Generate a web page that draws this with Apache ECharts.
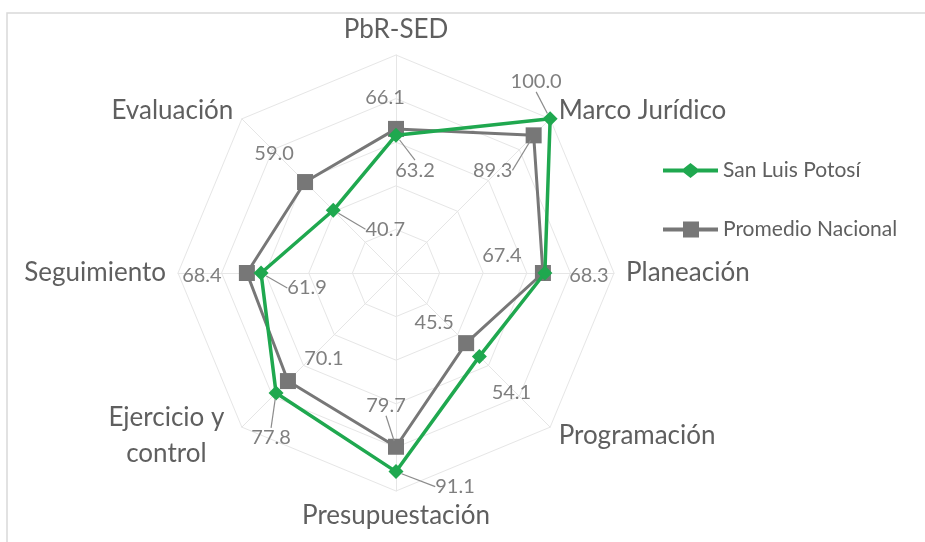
<!DOCTYPE html>
<html><head><meta charset="utf-8">
<script src="https://cdn.jsdelivr.net/npm/echarts@6/dist/echarts.min.js"></script>
<style>html,body{margin:0;padding:0;background:#fff}#c{width:925px;height:542px}</style>
</head><body><div id="c"></div>
<script>
// ---- data ----
const categories = ['PbR-SED', 'Marco Jurídico', 'Planeación', 'Programación', 'Presupuestación', 'Ejercicio y\ncontrol', 'Seguimiento', 'Evaluación'];
const seriesNames = ['San Luis Potosí', 'Promedio Nacional'];
const sanLuisPotosi = [63.2, 100.0, 68.3, 54.1, 91.1, 77.8, 61.9, 40.7];
const promedioNacional = [66.1, 89.3, 67.4, 45.5, 79.7, 70.1, 68.4, 59.0];
const axisMin = 0;
const axisMax = 100;

// ---- style / placement (not data) ----
const GREEN = '#1fa84f';
const GRAY = '#777777';
const TEXT = '#5f5f5f';
const FONT = 'Lato, "Liberation Sans", sans-serif';
const CENTER = [396, 273];
const RADIUS = 218;
const greenLabelOffsets = [[19, 35], [-14, -37], [44, 3], [32, 36], [59, 15], [-5, 45], [46, 15], [52, 19]];
const grayLabelOffsets = [[-11, -31], [-41, 35], [-41, -17], [-32, -21], [-10, -41], [36, -23], [-45, 3], [-31, -29]];
const greenLeader = [true, true, false, false, true, true, true, true];
const grayLeader = [false, true, false, false, true, false, false, false];

// radar lays indicators counter-clockwise; reorder so categories run clockwise
const order = [0].concat(categories.map((_, i) => i).slice(1).reverse());
const reorder = arr => order.map(i => arr[i]);

const chart = echarts.init(document.getElementById('c'), null, {renderer: 'canvas'});

function labelSeries(name, values, offsets, leaders, z) {
  return {
    type: 'scatter',
    name: name + ' labels',
    coordinateSystem: 'polar',
    polarIndex: 0,
    symbolSize: 12,
    silent: true,
    z: z,
    itemStyle: {color: 'transparent'},
    data: values.map((v, i) => ({
      value: [v, i],
      labelLine: {show: leaders[i]}
    })),
    label: {
      show: true,
      position: 'inside',
      formatter: p => p.value[0].toFixed(1),
      color: TEXT,
      fontFamily: FONT,
      fontSize: 20
    },
    labelLayout: function (p) {
      const o = offsets[p.dataIndex];
      return {dx: o[0], dy: o[1]};
    },
    labelLine: {
      show: true,
      length2: 0,
      lineStyle: {color: '#8c8c8c', width: 1.2}
    }
  };
}

const option = {
  backgroundColor: '#ffffff',
  animation: false,
  graphic: [{
    type: 'rect',
    shape: {x: 7, y: 13, width: 1200, height: 1200},
    style: {fill: 'none', stroke: '#d9d9d9', lineWidth: 1.5},
    silent: true,
    z: -10
  }],
  legend: {
    orient: 'vertical',
    left: 658,
    top: 155,
    itemWidth: 55,
    itemHeight: 16,
    itemGap: 38,
    data: [
      {name: seriesNames[0], icon: 'path://M0,6H20.5L27.5,0.5L34.5,6H55V10H34.5L27.5,15.5L20.5,10H0Z'},
      {name: seriesNames[1], icon: 'path://M0,6H20V0H36V6H55V10H36V16H20V10H0Z'}
    ],
    textStyle: {color: TEXT, fontFamily: FONT, fontSize: 21}
  },
  polar: {center: CENTER, radius: RADIUS},
  angleAxis: {
    type: 'category',
    data: categories,
    boundaryGap: false,
    startAngle: 90,
    clockwise: true,
    axisLine: {show: false}, axisTick: {show: false}, axisLabel: {show: false}, splitLine: {show: false}
  },
  radiusAxis: {
    min: axisMin, max: axisMax,
    axisLine: {show: false}, axisTick: {show: false}, axisLabel: {show: false}, splitLine: {show: false}
  },
  radar: {
    center: CENTER,
    radius: RADIUS,
    startAngle: 90,
    shape: 'polygon',
    splitNumber: 5,
    nameGap: 12,
    indicator: reorder(categories).map(n => ({name: n, min: axisMin, max: axisMax})),
    axisName: {
      color: TEXT,
      fontFamily: FONT,
      fontSize: 26,
      formatter: function (name) {
        const lines = name.split('\n');
        if (lines.length === 1) return name;
        return lines.map(l => '{c|' + l + '}').join('\n');
      },
      rich: {c: {width: 134, align: 'center', color: TEXT, fontFamily: FONT, fontSize: 26, lineHeight: 36}}
    },
    axisLine: {lineStyle: {color: '#e6e6e6', width: 1}},
    splitLine: {lineStyle: {color: '#e6e6e6', width: 1}},
    splitArea: {show: false}
  },
  series: [
    {
      type: 'radar',
      name: seriesNames[1],
      z: 2,
      symbol: 'rect',
      symbolSize: 16,
      lineStyle: {color: GRAY, width: 3},
      itemStyle: {color: GRAY},
      data: [{name: seriesNames[1], value: reorder(promedioNacional)}]
    },
    {
      type: 'radar',
      name: seriesNames[0],
      z: 3,
      symbol: 'diamond',
      symbolSize: 15,
      lineStyle: {color: GREEN, width: 3.5},
      itemStyle: {color: GREEN},
      data: [{name: seriesNames[0], value: reorder(sanLuisPotosi)}]
    },
    labelSeries(seriesNames[0], sanLuisPotosi, greenLabelOffsets, greenLeader, 5),
    labelSeries(seriesNames[1], promedioNacional, grayLabelOffsets, grayLeader, 5)
  ]
};
chart.setOption(option);
</script>
</body></html>
